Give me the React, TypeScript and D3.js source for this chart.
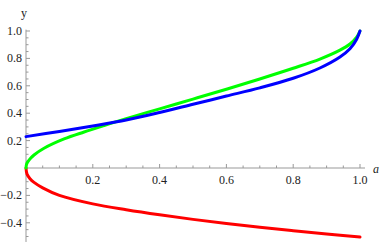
import React from 'react';
import * as d3 from 'd3';

// values
const redA = [0, 0.003, 0.012, 0.024, 0.05, 0.1, 0.2, 0.3, 0.4, 0.5, 0.6, 0.7, 0.8, 0.9, 1];
const redY = [0, -0.045, -0.078, -0.105, -0.145, -0.2, -0.262, -0.305, -0.342, -0.375, -0.405, -0.433, -0.458, -0.482, -0.504];

const greenA = [0, 0.002, 0.009, 0.024, 0.054, 0.114, 0.174, 0.234, 0.3, 0.4, 0.5, 0.6, 0.7, 0.8, 0.88, 0.94, 0.97, 0.99, 1];
const greenY = [0, 0.03, 0.058, 0.095, 0.144, 0.212, 0.263, 0.31, 0.36, 0.432, 0.503, 0.575, 0.65, 0.728, 0.795, 0.86, 0.905, 0.955, 1];

const blueA = [0, 0.1, 0.2, 0.3, 0.4, 0.5, 0.6, 0.7, 0.8, 0.88, 0.94, 0.97, 0.99, 1];
const blueY = [0.229, 0.267, 0.307, 0.35, 0.405, 0.465, 0.525, 0.585, 0.655, 0.73, 0.81, 0.87, 0.94, 1];

const xMajor = [0.2, 0.4, 0.6, 0.8, 1.0];
const yMajor = [-0.4, -0.2, 0.2, 0.4, 0.6, 0.8, 1.0];

const width = 382;
const height = 242;

const App: React.FC = () => {
  const x = d3.scaleLinear().domain([0, 1]).range([26, 360]);
  const y = d3.scaleLinear().domain([0, 1]).range([168, 31]);

  const line = d3.line<[number, number]>()
    .x(d => x(d[0]))
    .y(d => y(d[1]))
    .curve(d3.curveCatmullRom.alpha(0.5));

  const series = [
    { a: redA, v: redY, color: '#ff0000' },
    { a: greenA, v: greenY, color: '#00ff00' },
    { a: blueA, v: blueY, color: '#0000ff' },
  ];

  const xMinor = d3.range(0.05, 1.01, 0.05).map(d => +d.toFixed(2));
  const yMinor = d3.range(-0.5, 1.01, 0.05).map(d => +d.toFixed(2)).filter(d => d !== 0);
  const fmt = (d: number) => d.toFixed(1).replace('-', '\u2212');
  const axisColor = '#999';
  const textStyle = { fontFamily: "'Liberation Serif', 'DejaVu Serif', serif" };

  return (
    <svg width={width} height={height} style={{ position: 'absolute', left: 0, top: 0, background: '#fff' }}>
      {/* axes */}
      <line x1={x(0)} x2={365} y1={y(0)} y2={y(0)} stroke={axisColor} strokeWidth={1} />
      <line x1={x(0)} x2={x(0)} y1={y(1.01)} y2={y(-0.54)} stroke={axisColor} strokeWidth={1} />
      {xMinor.map(d => {
        const major = xMajor.some(m => Math.abs(m - d) < 1e-6);
        return (
          <line key={'xt' + d} x1={x(d)} x2={x(d)} y1={y(0)} y2={y(0) - (major ? 4 : 2.5)} stroke={axisColor} />
        );
      })}
      {yMinor.map(d => {
        const major = yMajor.some(m => Math.abs(m - d) < 1e-6);
        return (
          <line key={'yt' + d} x1={x(0)} x2={x(0) + (major ? 4 : 2.5)} y1={y(d)} y2={y(d)} stroke={axisColor} />
        );
      })}
      {xMajor.map(d => (
        <text key={'xl' + d} x={x(d)} y={y(0) + 16} textAnchor="middle" style={textStyle} fontSize={12} fill="#222">
          {fmt(d)}
        </text>
      ))}
      {yMajor.map(d => (
        <text key={'yl' + d} x={x(0) - 4} y={y(d) + 4} textAnchor="end" style={textStyle} fontSize={12} fill="#222">
          {fmt(d)}
        </text>
      ))}
      <text x={24} y={17} textAnchor="middle" style={textStyle} fontSize={12} fill="#222">y</text>
      <text x={376} y={173} textAnchor="middle" style={textStyle} fontSize={12} fontStyle="italic" fill="#222">a</text>

      {/* curves */}
      {series.map((s, i) => (
        <path
          key={i}
          d={line(s.a.map((a, j) => [a, s.v[j]] as [number, number])) || ''}
          fill="none"
          stroke={s.color}
          strokeWidth={3}
          strokeLinecap="round"
        />
      ))}
    </svg>
  );
};

export default App;
